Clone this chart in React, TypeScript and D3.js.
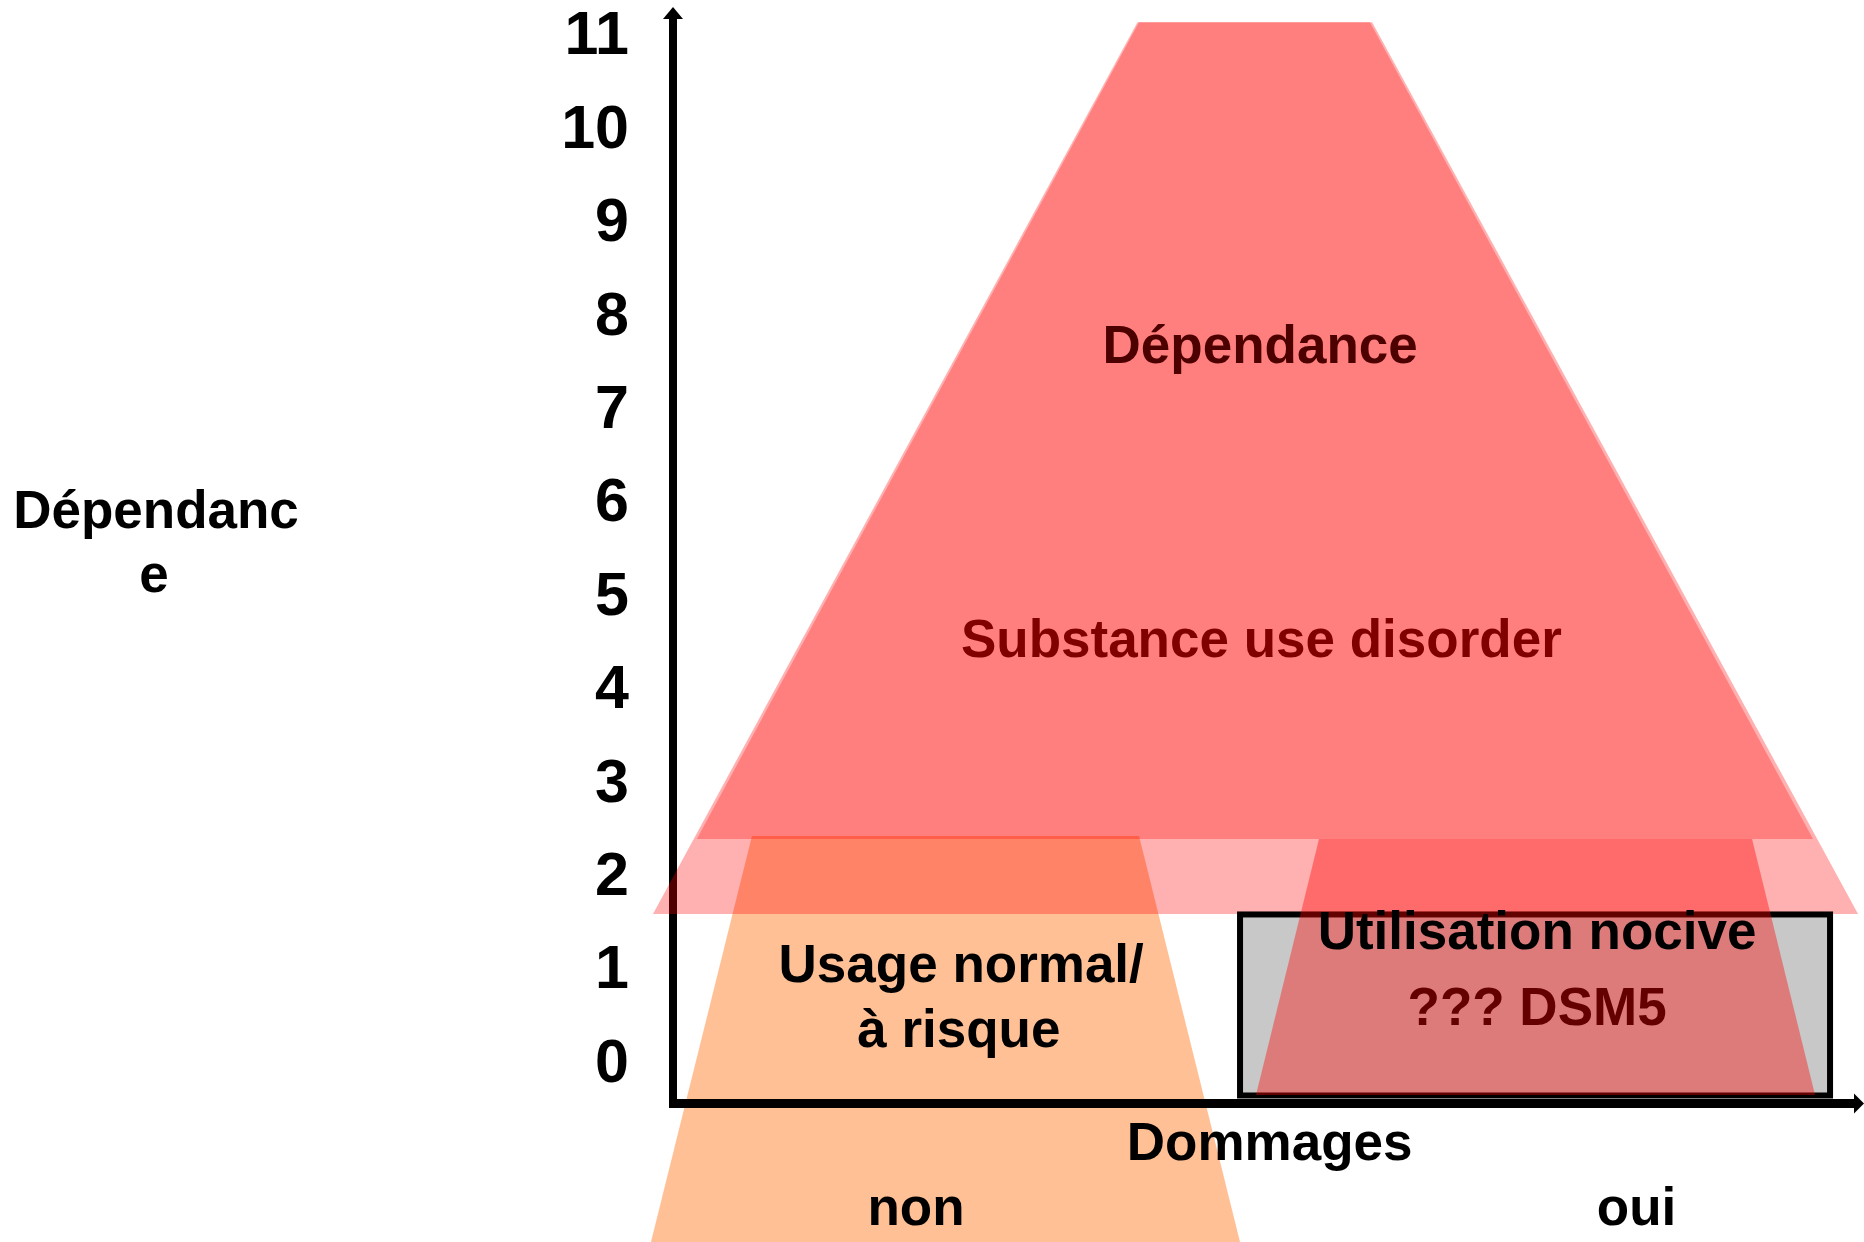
import React from "react";
import * as d3 from "d3";

// ---- data (x: "Dommages" units, y: "Dépendance" levels) ----
const yTicks: number[] = [0, 1, 2, 3, 4, 5, 6, 7, 8, 9, 10, 11];

// light outer pyramid band (whole shape incl. lower band)
const pyramidOuter: [number, number][] = [
  [3.9, 11.11], [5.87, 11.11], [9.95, 1.563], [-0.168, 1.563],
];
// darker upper part: Dépendance / Substance use disorder
const pyramidUpper: [number, number][] = [
  [3.913, 11.11], [5.852, 11.11], [9.572, 2.366], [0.2, 2.366],
];
// Usage normal / à risque
const usageShape: [number, number][] = [
  [0.663, 2.398], [3.913, 2.398], [4.761, -1.948], [-0.185, -1.948],
];
// red trapezoid over "Utilisation nocive"
const nociveShape: [number, number][] = [
  [5.424, 2.366], [9.06, 2.366], [9.589, -0.375], [4.895, -0.375],
];
// grey box: [x0, x1, yTop, yBottom]
const nociveBox: number[] = [4.761, 9.715, 1.558, -0.38];
const xAxisLevel = -0.466;

type Label = { text: string; x: number; y: number; color: string };
const shapeLabels: Label[] = [
  { text: "Dépendance", x: 4.93, y: 7.461, color: "#4d0000" },
  { text: "Substance use disorder", x: 4.94, y: 4.314, color: "#800000" },
  { text: "Usage normal/", x: 2.42, y: 0.835, color: "#000000" },
  { text: "à risque", x: 2.4, y: 0.139, color: "#000000" },
  { text: "Utilisation nocive", x: 7.255, y: 1.188, color: "#000000" },
  { text: "??? DSM5", x: 7.255, y: 0.375, color: "#640000" },
  { text: "Dommages", x: 5.01, y: -1.075, color: "#000000" },
  { text: "non", x: 2.04, y: -1.765, color: "#000000" },
  { text: "oui", x: 8.09, y: -1.765, color: "#000000" },
];
const yTitle: string[] = ["Dépendanc", "e"];

const W = 1864;
const H = 1242;
const FONT = "'Liberation Sans', Arial, Helvetica, sans-serif";

export default function App() {
  const x = d3.scaleLinear().domain([0, 10]).range([673, 1864]);
  const y = d3.scaleLinear().domain([0, 11]).range([1060, 32.5]);
  const line = d3
    .line<[number, number]>()
    .x((d) => x(d[0]))
    .y((d) => y(d[1]))
    .curve(d3.curveLinearClosed);

  const x0 = x(0);
  const yAx = y(xAxisLevel);

  return (
    <svg
      width={W}
      height={H}
      viewBox={`0 0 ${W} ${H}`}
      style={{ position: "absolute", left: 0, top: 0, display: "block", background: "#fff" }}
      fontFamily={FONT}
      fontWeight="bold"
    >
      <rect x={0} y={0} width={W} height={H} fill="#ffffff" />
      {/* orange shape */}
      <path d={line(usageShape) || ""} fill="#ff6600" fillOpacity={0.41} />

      {/* y axis (under the pink band) */}
      <line x1={x0} x2={x0} y1={yAx + 4.5} y2={19} stroke="#000" strokeWidth={8} />
      <path d={`M${x0},7 L${x0 + 10},19 L${x0 - 10},19 Z`} fill="#000" />

      {/* pyramid */}
      <path d={line(pyramidOuter) || ""} fill="#ff0000" fillOpacity={0.31} />
      <path d={line(pyramidUpper) || ""} fill="#ff0000" fillOpacity={0.278} />

      {/* grey box */}
      <rect
        x={x(nociveBox[0])}
        y={y(nociveBox[2])}
        width={x(nociveBox[1]) - x(nociveBox[0])}
        height={y(nociveBox[3]) - y(nociveBox[2])}
        fill="#c8c8c8"
        stroke="#000"
        strokeWidth={6}
      />
      <path d={line(nociveShape) || ""} fill="#ff0000" fillOpacity={0.39} />

      {/* x axis */}
      <line x1={x0 - 4} x2={W - 8} y1={yAx} y2={yAx} stroke="#000" strokeWidth={9} />
      <path d={`M${W},${yAx} L${W - 10},${yAx - 10} L${W - 10},${yAx + 10} Z`} fill="#000" />

      {/* tick labels */}
      {yTicks.map((t) => (
        <text
          key={t}
          x={629}
          y={y(t)}
          dy="0.358em"
          textAnchor="end"
          fontSize={61}
          fill="#000"
        >
          {t}
        </text>
      ))}

      {/* y title */}
      <text x={156} y={528} textAnchor="middle" fontSize={53} fill="#000">
        {yTitle[0]}
      </text>
      <text x={154} y={592} textAnchor="middle" fontSize={53} fill="#000">
        {yTitle[1]}
      </text>

      {/* labels */}
      {shapeLabels.map((l) => (
        <text
          key={l.text}
          x={x(l.x)}
          y={y(l.y)}
          textAnchor="middle"
          fontSize={53}
          fill={l.color}
        >
          {l.text}
        </text>
      ))}
    </svg>
  );
}
